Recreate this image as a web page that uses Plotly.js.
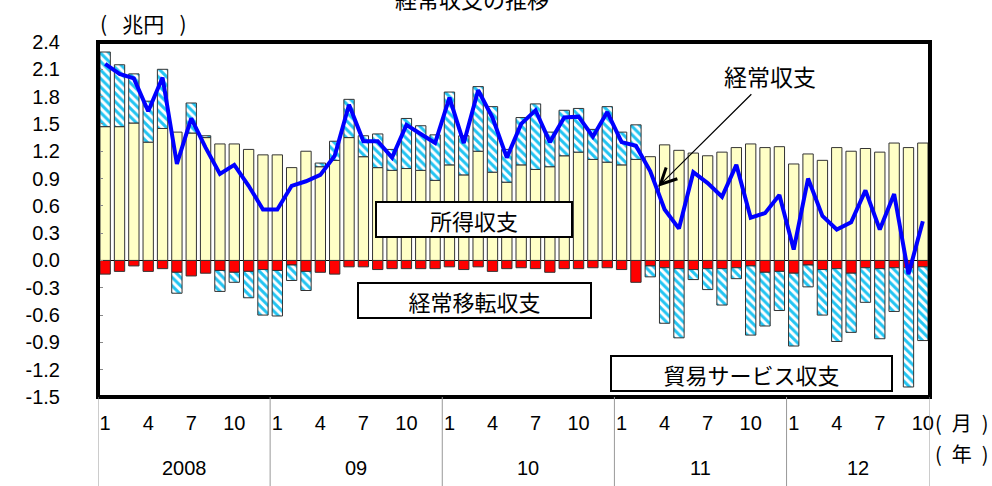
<!DOCTYPE html>
<html>
<head>
<meta charset="utf-8">
<script src="https://cdn.plot.ly/plotly-3.0.1.min.js"></script>
<style>
  html, body { margin: 0; padding: 0; background: #fff; }
  #chart { width: 992px; height: 486px; }
</style>
</head>
<body>
<div id="chart"></div>
<script>
// Japan's current account, monthly, Jan 2008 – Oct 2012 (trillion yen)
const years = ['2008', '09', '10', '11', '12'];
const monthTicks = [1, 4, 7, 10];
const monthsPerYear = [12, 12, 12, 12, 10];

// 所得収支 (income balance)
const income = [
  1.47, 1.47, 1.51, 1.30, 1.45, 1.41, 1.40, 1.35, 1.28, 1.28, 1.22, 1.16,
  1.16, 1.02, 1.20, 1.03, 1.10, 1.35, 1.14, 1.02, 0.99, 1.01, 0.99, 0.88,
  1.05, 0.94, 1.20, 0.97, 0.86, 1.05, 1.00, 1.03, 1.15, 1.19, 1.11, 1.08,
  1.05, 1.11, 1.14, 1.27, 1.21, 1.18, 1.15, 1.19, 1.24, 1.28, 1.24, 1.25,
  1.06, 1.17, 1.10, 1.24, 1.20, 1.23, 1.19, 1.29, 1.24, 1.29
];
// 貿易サービス収支 (goods & services balance)
const trade = [
  0.82, 0.68, 0.54, 0.45, 0.65, -0.23, 0.33, 0.02, -0.23, -0.11, -0.29, -0.50,
  -0.50, -0.17, -0.21, 0.04, 0.21, 0.42, 0.23, 0.37, 0.23, 0.55, 0.49, 0.50,
  0.80, 0.43, 0.71, 0.72, 0.36, 0.52, 0.72, 0.38, 0.50, 0.48, 0.33, 0.61,
  0.36, 0.38, -0.12, -0.61, -0.76, -0.11, -0.23, -0.40, -0.12, -0.76, -0.59, -0.43,
  -0.80, -0.24, -0.50, -0.80, -0.65, -0.38, -0.77, -0.48, -1.31, -0.81
];
// 経常移転収支 (current transfers)
const transfers = [
  -0.15, -0.12, -0.06, -0.12, -0.09, -0.13, -0.17, -0.14, -0.11, -0.13, -0.12, -0.10,
  -0.11, -0.05, -0.12, -0.13, -0.15, -0.07, -0.07, -0.10, -0.09, -0.09, -0.09, -0.09,
  -0.07, -0.10, -0.07, -0.12, -0.09, -0.08, -0.09, -0.13, -0.09, -0.09, -0.08, -0.08,
  -0.10, -0.24, -0.06, -0.08, -0.09, -0.10, -0.09, -0.09, -0.08, -0.06, -0.13, -0.12,
  -0.14, -0.05, -0.10, -0.09, -0.14, -0.08, -0.09, -0.08, -0.08, -0.07
];
// 経常収支 (current account)
const current = [
  2.16, 2.05, 2.00, 1.64, 2.01, 1.06, 1.56, 1.24, 0.95, 1.05, 0.82, 0.56,
  0.56, 0.82, 0.87, 0.94, 1.15, 1.71, 1.31, 1.31, 1.13, 1.49, 1.39, 1.29,
  1.79, 1.29, 1.87, 1.57, 1.13, 1.50, 1.65, 1.30, 1.57, 1.58, 1.36, 1.63,
  1.30, 1.26, 0.98, 0.56, 0.35, 0.97, 0.85, 0.70, 1.05, 0.47, 0.52, 0.72,
  0.12, 0.90, 0.49, 0.34, 0.42, 0.77, 0.34, 0.73, -0.15, 0.43
];
const yTickText = ['-1.5', '-1.2', '-0.9', '-0.6', '-0.3', '0.0', '0.3', '0.6', '0.9', '1.2', '1.5', '1.8', '2.1', '2.4'];

// month index positions along the x axis
const x = [];
const monthOf = [];
monthsPerYear.forEach((n) => { for (let m = 1; m <= n; m++) { x.push(x.length); monthOf.push(m); } });
const tickvals = x.filter((i) => monthTicks.includes(monthOf[i]));
const ticktext = tickvals.map((i) => String(monthOf[i]));
const yTickVals = yTickText.map(Number);

// year group boundaries and centres
const bounds = [-0.5];
monthsPerYear.forEach((n) => bounds.push(bounds[bounds.length - 1] + n));
const yearCentres = years.map((_, k) => (bounds[k] + bounds[k + 1]) / 2);

const jp = 'Noto Sans CJK JP, sans-serif';
const latin = 'Liberation Sans, Arial, sans-serif';
const outline = { color: '#333', width: 1 };
// spaced half-width brackets for unit labels
const unit = (s, wide) => (wide ? '( \u2002' : '(\u2002') + s + (wide ? '\u2002 )' : '\u2002)');

const traces = [
  { type: 'bar', x, y: income, name: '所得収支',
    marker: { color: '#FFFFC6', line: outline } },
  { type: 'bar', x, y: transfers, name: '経常移転収支',
    marker: { color: '#FF0000', line: outline } },
  { type: 'bar', x, y: trade, name: '貿易サービス収支',
    marker: { color: '#ffffff', line: outline,
      pattern: { shape: '\\', fgcolor: '#22C4F2', bgcolor: '#ffffff', size: 6, solidity: 0.5 } } },
  { type: 'scatter', mode: 'lines', x, y: current, name: '経常収支',
    line: { color: '#0000FF', width: 4 } }
];

const shapes = [
  { type: 'rect', xref: 'paper', yref: 'paper', x0: 0, x1: 1, y0: 0, y1: 1,
    line: { color: '#000', width: 4 } }
];
bounds.forEach((b) => shapes.push({
  type: 'line', xref: 'x', yref: 'paper', x0: b, x1: b, y0: 0, y1: -0.26,
  line: { color: '#999', width: 1 }
}));

const centred = { xanchor: 'center', yanchor: 'middle', showarrow: false };

const boxLabel = (text, xv, yv, w) => Object.assign({}, centred, {
  xref: 'x', yref: 'y', x: xv, y: yv, text,
  font: { family: jp, size: 22, color: '#000' },
  bgcolor: '#fff', bordercolor: '#000', borderwidth: 2, borderpad: 0,
  width: w, height: 33
});

const annotations = [
  Object.assign({}, centred, { xref: 'paper', yref: 'paper', x: 0.449, y: 1.124,
    text: '経常収支の推移', font: { family: jp, size: 22, color: '#000' } }),
  Object.assign({}, centred, { xref: 'paper', yref: 'paper', x: 0.0, xanchor: 'left', y: 1.053,
    text: unit('兆円', true), font: { family: jp, size: 21, color: '#000' } }),
  boxLabel('所得収支', 25.7, 0.445, 194),
  boxLabel('経常移転収支', 25.75, -0.44, 231),
  boxLabel('貿易サービス収支', 45.06, -1.242, 279),
  { xref: 'x', yref: 'y', x: 38.54, y: 0.81, ax: 112, ay: -111, text: '経常収支',
    showarrow: true, arrowhead: 5, arrowsize: 2.6, arrowwidth: 1.2, arrowcolor: '#000',
    font: { family: jp, size: 23, color: '#000' } },
  Object.assign({}, centred, { xref: 'paper', yref: 'paper', x: 1.038, y: -0.073,
    text: unit('月'), font: { family: jp, size: 20, color: '#000' } }),
  Object.assign({}, centred, { xref: 'paper', yref: 'paper', x: 1.038, y: -0.158,
    text: unit('年'), font: { family: jp, size: 20, color: '#000' } })
];
years.forEach((t, k) => annotations.push(Object.assign({}, centred, {
  xref: 'x', yref: 'paper', x: yearCentres[k], y: -0.2, text: t,
  font: { family: latin, size: 20, color: '#000' }
})));

const layout = {
  width: 992, height: 486,
  margin: { l: 98, r: 62, t: 42, b: 89 },
  paper_bgcolor: '#fff', plot_bgcolor: '#fff',
  barmode: 'relative', bargap: 0.28,
  showlegend: false,
  font: { family: latin, color: '#000' },
  xaxis: {
    range: [-0.5, 57.5], tickmode: 'array', tickvals, ticktext,
    tickfont: { size: 20 }, ticks: '', showgrid: false, zeroline: false, showline: false,
    ticklabelstandoff: 12
  },
  yaxis: {
    range: [-1.5, 2.4], tickmode: 'array', tickvals: yTickVals, ticktext: yTickText,
    tickfont: { size: 20 }, ticks: 'inside', ticklen: 5, tickcolor: '#888', tickwidth: 1,
    showgrid: false, zeroline: true, zerolinecolor: '#000', zerolinewidth: 1, showline: false,
    ticklabelstandoff: 37
  },
  shapes, annotations
};

Plotly.newPlot('chart', traces, layout, { displayModeBar: false, staticPlot: true });
</script>
</body>
</html>
